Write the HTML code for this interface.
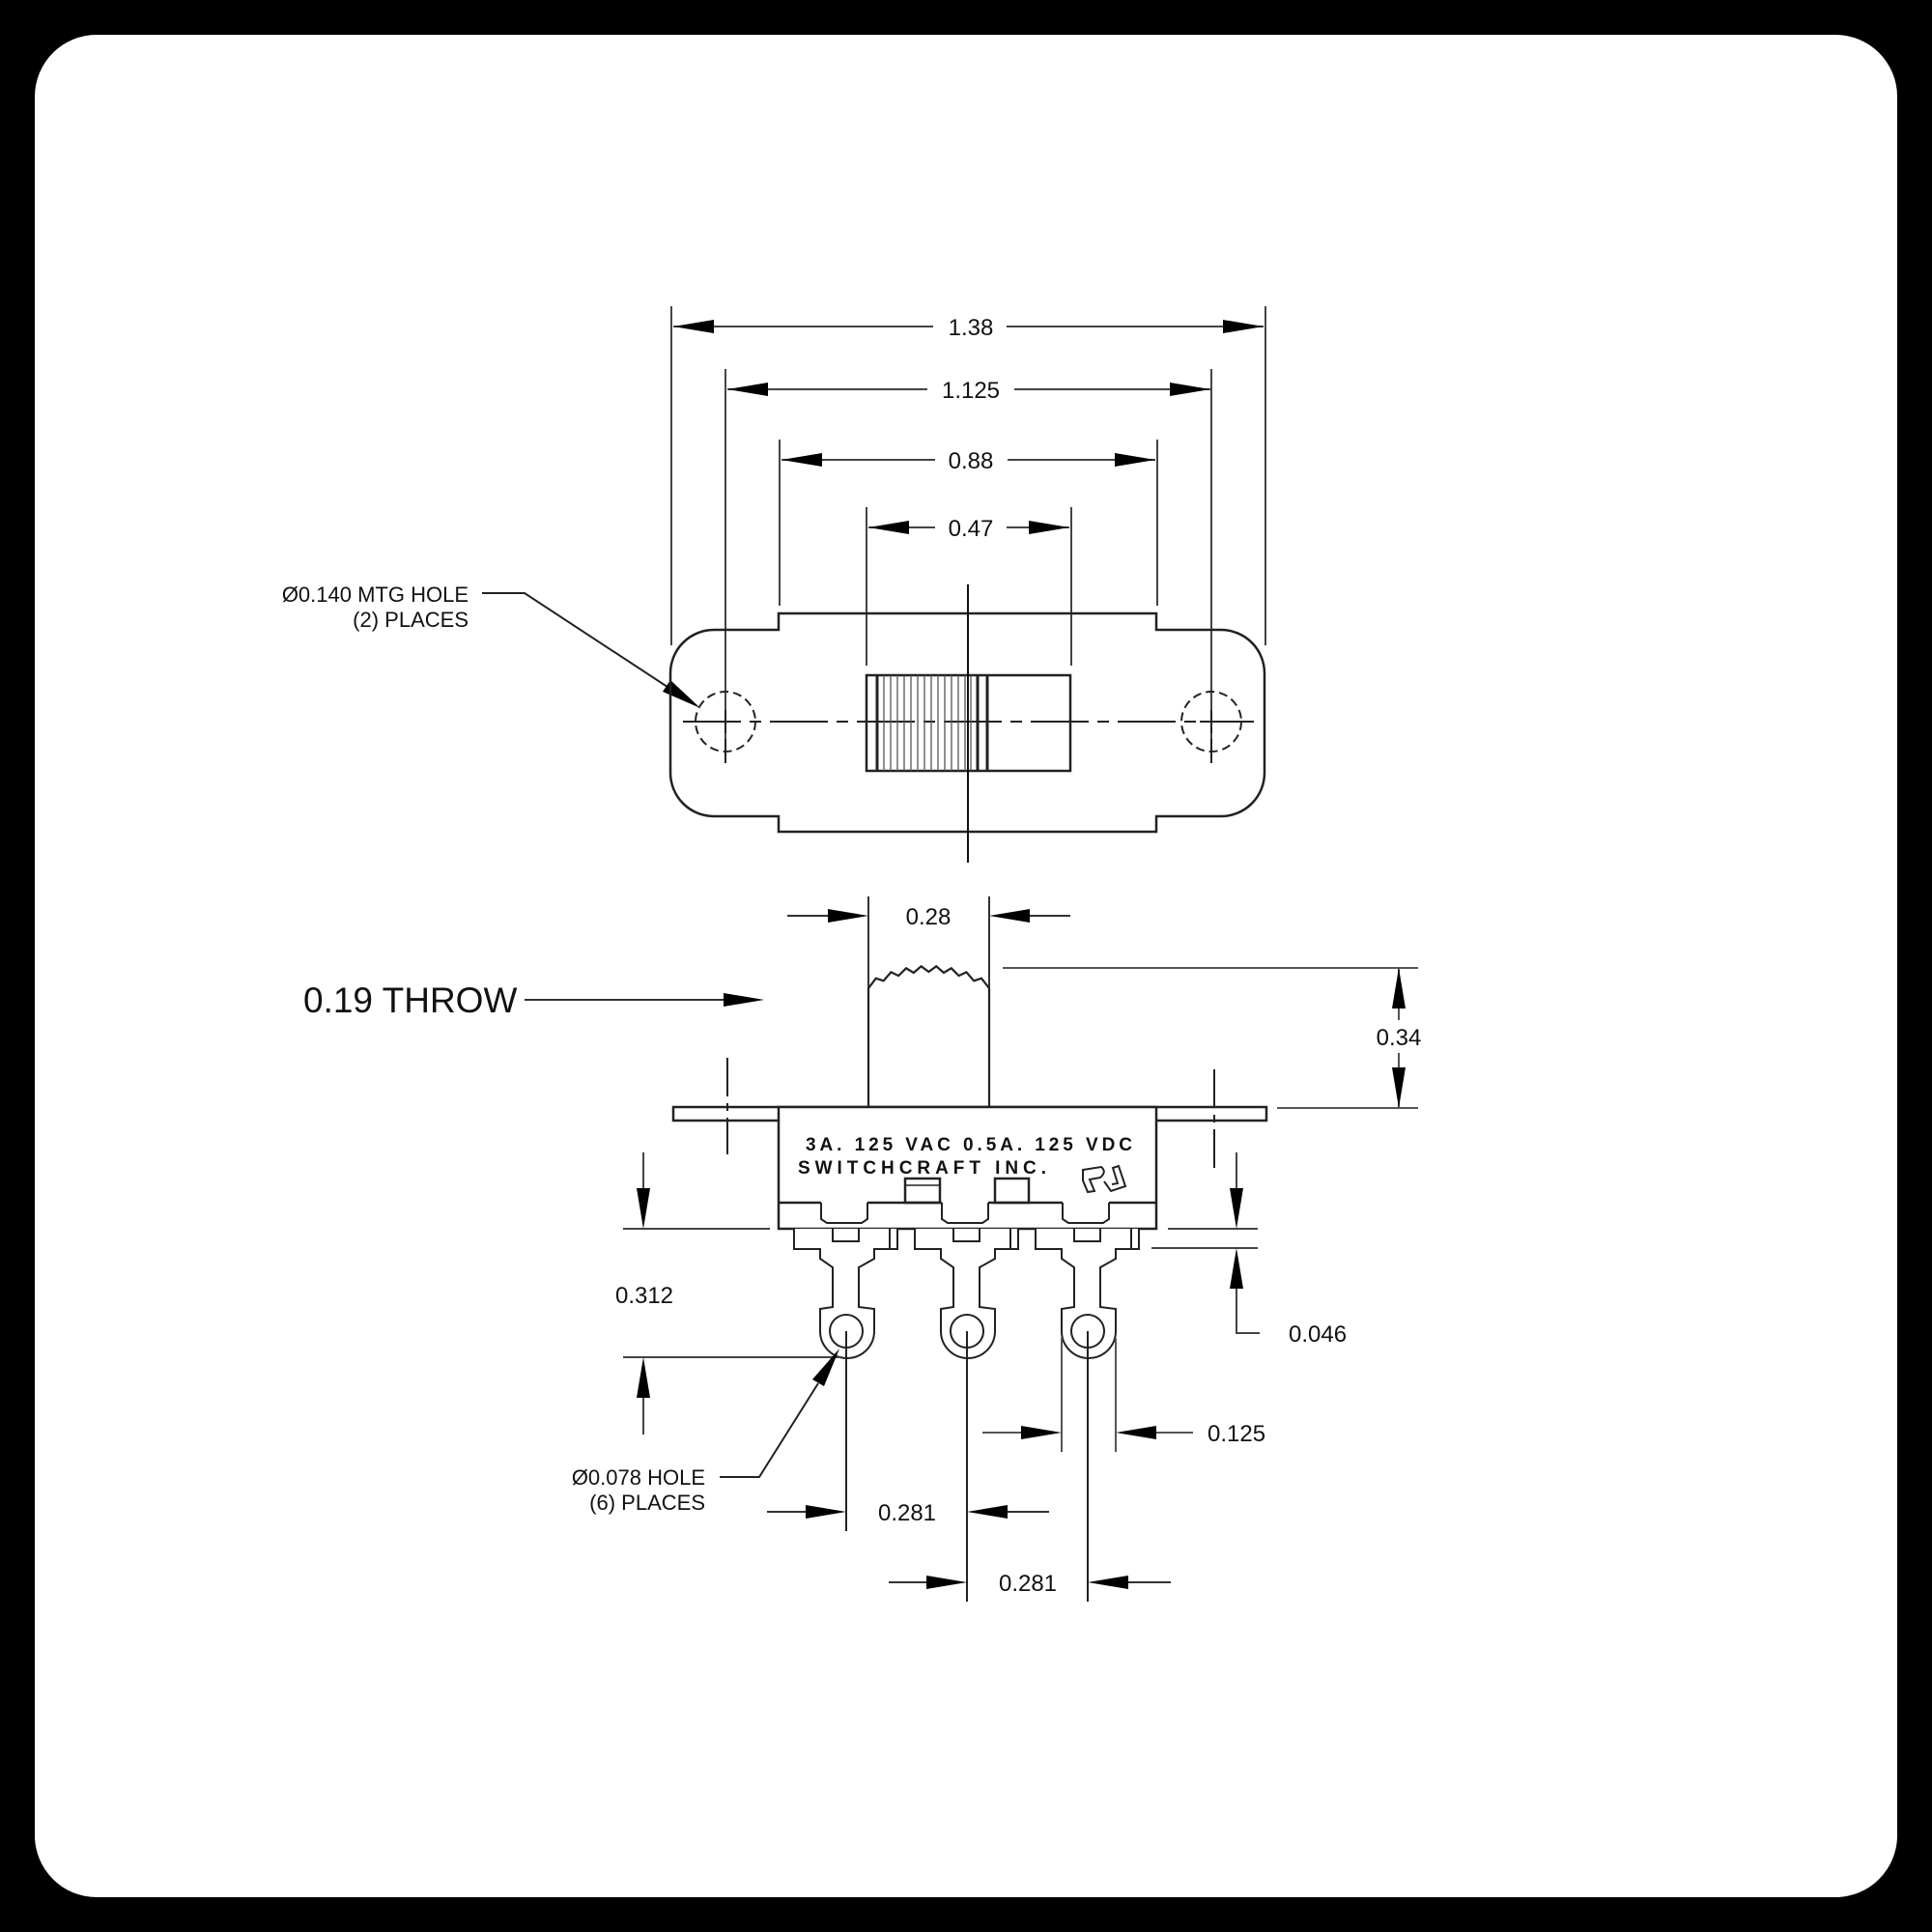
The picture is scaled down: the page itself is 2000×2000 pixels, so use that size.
<!DOCTYPE html>
<html><head><meta charset="utf-8"><style>
html,body{margin:0;padding:0;background:#000;}
svg{display:block;}
text{font-family:"Liberation Sans",Arial,sans-serif;fill:#111;}
</style></head><body>
<svg width="2000" height="2000" viewBox="0 0 2000 2000" xmlns="http://www.w3.org/2000/svg">
<rect x="0" y="0" width="2000" height="2000" fill="#000"/>
<rect x="36" y="36" width="1928" height="1928" rx="64" fill="#fff"/>

<!-- ===== TOP VIEW DIMENSIONS ===== -->
<g stroke="#444" stroke-width="2" fill="none">
  <!-- extension lines -->
  <line x1="695" y1="317" x2="695" y2="668"/>
  <line x1="1310" y1="317" x2="1310" y2="668"/>
  <line x1="751" y1="382" x2="751" y2="790"/>
  <line x1="1254" y1="382" x2="1254" y2="790"/>
  <line x1="807" y1="455" x2="807" y2="627"/>
  <line x1="1198" y1="455" x2="1198" y2="627"/>
  <line x1="897" y1="525" x2="897" y2="689"/>
  <line x1="1109" y1="525" x2="1109" y2="689"/>
  <!-- dim lines -->
  <line x1="697" y1="338" x2="966" y2="338"/><line x1="1042" y1="338" x2="1308" y2="338"/>
  <line x1="753" y1="403" x2="960" y2="403"/><line x1="1050" y1="403" x2="1253" y2="403"/>
  <line x1="809" y1="476" x2="968" y2="476"/><line x1="1043" y1="476" x2="1196" y2="476"/>
  <line x1="899" y1="546" x2="968" y2="546"/><line x1="1042" y1="546" x2="1107" y2="546"/>
</g>
<g fill="#000">
  <polygon points="697,338 739,331 739,345"/><polygon points="1308,338 1266,331 1266,345"/>
  <polygon points="753,403 795,396 795,410"/><polygon points="1253,403 1211,396 1211,410"/>
  <polygon points="809,476 851,469 851,483"/><polygon points="1196,476 1154,469 1154,483"/>
  <polygon points="899,546 941,539 941,553"/><polygon points="1107,546 1065,539 1065,553"/>
</g>
<g font-size="24" text-anchor="middle">
  <text x="1005" y="347">1.38</text>
  <text x="1005" y="412">1.125</text>
  <text x="1005" y="485">0.88</text>
  <text x="1005" y="555">0.47</text>
</g>

<!-- MTG hole label -->
<g font-size="22" text-anchor="end">
  <text x="485" y="623">Ø0.140 MTG HOLE</text>
  <text x="485" y="649">(2) PLACES</text>
</g>
<polyline points="499,614 543,614 700,717" fill="none" stroke="#222" stroke-width="2"/>
<polygon points="725,733 686,716 694,704" fill="#000"/>

<!-- ===== TOP VIEW BODY ===== -->
<path d="M806,652 L806,635 L1197,635 L1197,652 L1264,652 A45,45 0 0 1 1309,697 L1309,800 A45,45 0 0 1 1264,845 L1197,845 L1197,861 L806,861 L806,845 L739,845 A45,45 0 0 1 694,800 L694,697 A45,45 0 0 1 739,652 Z" fill="none" stroke="#222" stroke-width="2.5"/>
<!-- holes -->
<g fill="none" stroke="#222" stroke-width="2">
  <circle cx="751" cy="747" r="31" stroke-dasharray="9 5"/>
  <circle cx="1254" cy="747" r="31" stroke-dasharray="9 5"/>
  <line x1="739" y1="747" x2="763" y2="747"/><line x1="751" y1="735" x2="751" y2="759"/>
  <line x1="1242" y1="747" x2="1266" y2="747"/><line x1="1254" y1="735" x2="1254" y2="759"/>
  <line x1="751" y1="765" x2="751" y2="790" />
  <line x1="1254" y1="765" x2="1254" y2="790" />
  <line x1="707" y1="747" x2="1298" y2="747" stroke-dasharray="60 9 12 9"/>
  <!-- slider -->
  <rect x="897" y="699" width="211" height="99" stroke-width="2.5"/>
  <line x1="1022" y1="699" x2="1022" y2="798" stroke-width="3"/>
  <line x1="908" y1="699" x2="908" y2="798" stroke-width="3"/>
  <line x1="1012" y1="699" x2="1012" y2="798" stroke-width="3"/>
  <g stroke-width="1.3" stroke="#555">
    <line x1="915" y1="699" x2="915" y2="798"/><line x1="922" y1="699" x2="922" y2="798"/>
    <line x1="929" y1="699" x2="929" y2="798"/><line x1="936" y1="699" x2="936" y2="798"/>
    <line x1="943" y1="699" x2="943" y2="798"/><line x1="950" y1="699" x2="950" y2="798"/>
    <line x1="957" y1="699" x2="957" y2="798"/><line x1="964" y1="699" x2="964" y2="798"/>
    <line x1="971" y1="699" x2="971" y2="798"/><line x1="978" y1="699" x2="978" y2="798"/>
    <line x1="985" y1="699" x2="985" y2="798"/><line x1="992" y1="699" x2="992" y2="798"/>
    <line x1="999" y1="699" x2="999" y2="798"/><line x1="1005" y1="699" x2="1005" y2="798"/>
  </g>
  <line x1="1002" y1="605" x2="1002" y2="893" stroke="#111"/>
</g>

<!-- ===== SIDE VIEW ===== -->
<!-- THROW -->
<text x="314" y="1048" font-size="37">0.19 THROW</text>
<line x1="543" y1="1035" x2="760" y2="1035" stroke="#333" stroke-width="2"/>
<polygon points="791,1035 749,1028 749,1042" fill="#000"/>

<!-- 0.28 -->
<g stroke="#333" stroke-width="2" fill="none">
  <line x1="899" y1="928" x2="899" y2="1023"/>
  <line x1="1024" y1="928" x2="1024" y2="1023"/>
  <line x1="815" y1="948" x2="860" y2="948"/>
  <line x1="1064" y1="948" x2="1108" y2="948"/>
</g>
<polygon points="899,948 857,941 857,955" fill="#000"/>
<polygon points="1024,948 1066,941 1066,955" fill="#000"/>
<text x="961" y="957" font-size="24" text-anchor="middle">0.28</text>

<!-- actuator -->
<g fill="none" stroke="#222" stroke-width="2.2">
  <line x1="899" y1="1023" x2="899" y2="1146"/>
  <line x1="1024" y1="1023" x2="1024" y2="1146"/>
  <polyline points="899,1023 906.8,1012.8 914.6,1015.3 922.4,1006.4 930.2,1010.1 938,1002.3 945.8,1007 953.6,1000.3 961.4,1006 969.2,1000.3 977,1007 984.8,1002.3 992.6,1010.1 1000.4,1006.4 1008.2,1015.3 1016,1012.8 1024,1023"/>
</g>
<!-- 0.34 -->
<g stroke="#555" stroke-width="2" fill="none">
  <line x1="1038" y1="1002" x2="1468" y2="1002"/>
  <line x1="1322" y1="1147" x2="1468" y2="1147"/>
  <line x1="1448" y1="1002" x2="1448" y2="1056"/>
  <line x1="1448" y1="1090" x2="1448" y2="1147"/>
</g>
<polygon points="1448,1002 1441,1044 1455,1044" fill="#000"/>
<polygon points="1448,1147 1441,1105 1455,1105" fill="#000"/>
<text x="1448" y="1082" font-size="24" text-anchor="middle">0.34</text>

<!-- plate & body -->
<g fill="none" stroke="#222" stroke-width="2.5">
  <rect x="697" y="1146" width="614" height="14"/>
  <rect x="806" y="1146" width="391" height="126" fill="#fff"/>
  <line x1="806" y1="1245" x2="850" y2="1245"/>
  <line x1="898" y1="1245" x2="975" y2="1245"/>
  <line x1="1023" y1="1245" x2="1100" y2="1245"/>
  <line x1="1148" y1="1245" x2="1197" y2="1245"/>
  <rect x="937" y="1220" width="36" height="25"/>
  <line x1="937" y1="1227" x2="973" y2="1227" stroke-width="1.6"/>
  <rect x="1030" y="1220" width="35" height="25"/>
</g>
<!-- dash-dot center lines side -->
<g stroke="#222" stroke-width="2" fill="none">
  <line x1="753" y1="1095" x2="753" y2="1195" stroke-dasharray="40 7 8 7"/>
  <line x1="1257" y1="1107" x2="1257" y2="1210" stroke-dasharray="40 7 8 7"/>
</g>
<g font-size="19" font-weight="bold">
  <text x="834" y="1191" textLength="338" lengthAdjust="spacing">3A. 125 VAC 0.5A. 125 VDC</text>
  <text x="826" y="1215" textLength="257" lengthAdjust="spacing">SWITCHCRAFT INC.</text>
</g>
<!-- UL mark -->
<g fill="none" stroke="#222" stroke-width="2">
  <path d="M1121,1211 L1140,1208 Q1146,1213 1139,1219 L1128,1221 L1133,1233 L1126,1234 L1121,1222 Z"/>
  <path d="M1143,1223 L1150,1233 L1165,1228 L1158,1207 L1152,1209 L1157,1225 L1151,1226"/>
</g>

<!-- terminals -->
<g fill="#fff" stroke="#222" stroke-width="2">
  <g transform="translate(876,0)">
    <path d="M-26,1245 L-26,1262 L-20,1266 L16,1266 L22,1262 L22,1245" fill="none"/>
    <path d="M-54,1272 L-54,1293 L-27,1293 L-27,1303 L-14,1312 L-14,1353 L-27,1355 L-27,1378 A28,28 0 0 0 29,1378 L29,1355 L13,1353 L13,1312 L29,1303 L29,1293 L53,1293 L53,1272"/>
    <path d="M-14,1272 L-14,1285 L13,1285 L13,1272" fill="none"/>
    <line x1="45" y1="1272" x2="45" y2="1293"/>
    <circle cx="0" cy="1378" r="17"/>
  </g>
  <g transform="translate(1001,0)">
    <path d="M-26,1245 L-26,1262 L-20,1266 L16,1266 L22,1262 L22,1245" fill="none"/>
    <path d="M-54,1272 L-54,1293 L-27,1293 L-27,1303 L-14,1312 L-14,1353 L-27,1355 L-27,1378 A28,28 0 0 0 29,1378 L29,1355 L13,1353 L13,1312 L29,1303 L29,1293 L53,1293 L53,1272"/>
    <path d="M-14,1272 L-14,1285 L13,1285 L13,1272" fill="none"/>
    <line x1="45" y1="1272" x2="45" y2="1293"/>
    <circle cx="0" cy="1378" r="17"/>
  </g>
  <g transform="translate(1126,0)">
    <path d="M-26,1245 L-26,1262 L-20,1266 L16,1266 L22,1262 L22,1245" fill="none"/>
    <path d="M-54,1272 L-54,1293 L-27,1293 L-27,1303 L-14,1312 L-14,1353 L-27,1355 L-27,1378 A28,28 0 0 0 29,1378 L29,1355 L13,1353 L13,1312 L29,1303 L29,1293 L53,1293 L53,1272"/>
    <path d="M-14,1272 L-14,1285 L13,1285 L13,1272" fill="none"/>
    <line x1="45" y1="1272" x2="45" y2="1293"/>
    <circle cx="0" cy="1378" r="17"/>
  </g>
</g>

<!-- 0.312 -->
<g stroke="#444" stroke-width="2" fill="none">
  <line x1="645" y1="1272" x2="797" y2="1272"/>
  <line x1="645" y1="1405" x2="872" y2="1405"/>
  <line x1="666" y1="1193" x2="666" y2="1240"/>
  <line x1="666" y1="1440" x2="666" y2="1485"/>
</g>
<polygon points="666,1272 659,1230 673,1230" fill="#000"/>
<polygon points="666,1405 659,1447 673,1447" fill="#000"/>
<text x="667" y="1349" font-size="24" text-anchor="middle">0.312</text>

<!-- 0.046 -->
<g stroke="#444" stroke-width="2" fill="none">
  <line x1="1209" y1="1272" x2="1302" y2="1272"/>
  <line x1="1192" y1="1292" x2="1302" y2="1292"/>
  <line x1="1280" y1="1193" x2="1280" y2="1240"/>
  <polyline points="1280,1325 1280,1380 1304,1380"/>
</g>
<polygon points="1280,1272 1273,1230 1287,1230" fill="#000"/>
<polygon points="1280,1292 1273,1334 1287,1334" fill="#000"/>
<text x="1334" y="1389" font-size="24">0.046</text>

<!-- vertical centre / extension lines at bottom -->
<g stroke="#222" stroke-width="2" fill="none">
  <line x1="876" y1="1378" x2="876" y2="1585"/>
  <line x1="1001" y1="1378" x2="1001" y2="1658"/>
  <line x1="1126" y1="1378" x2="1126" y2="1658"/>
  <line x1="1099" y1="1385" x2="1099" y2="1503" stroke="#555"/>
  <line x1="1155" y1="1385" x2="1155" y2="1503" stroke="#555"/>
</g>
<!-- 0.125 -->
<g stroke="#555" stroke-width="2">
  <line x1="1017" y1="1483" x2="1060" y2="1483"/>
  <line x1="1195" y1="1483" x2="1235" y2="1483"/>
</g>
<polygon points="1099,1483 1057,1476 1057,1490" fill="#000"/>
<polygon points="1155,1483 1197,1476 1197,1490" fill="#000"/>
<text x="1250" y="1492" font-size="24">0.125</text>
<!-- 0.281 a -->
<g stroke="#333" stroke-width="2">
  <line x1="794" y1="1565" x2="840" y2="1565"/>
  <line x1="1040" y1="1565" x2="1086" y2="1565"/>
  <line x1="920" y1="1638" x2="965" y2="1638"/>
  <line x1="1165" y1="1638" x2="1212" y2="1638"/>
</g>
<polygon points="876,1565 834,1558 834,1572" fill="#000"/>
<polygon points="1001,1565 1043,1558 1043,1572" fill="#000"/>
<text x="939" y="1574" font-size="24" text-anchor="middle">0.281</text>
<polygon points="1001,1638 959,1631 959,1645" fill="#000"/>
<polygon points="1126,1638 1168,1631 1168,1645" fill="#000"/>
<text x="1064" y="1647" font-size="24" text-anchor="middle">0.281</text>

<!-- Ø0.078 label -->
<g font-size="22" text-anchor="end">
  <text x="730" y="1537">Ø0.078 HOLE</text>
  <text x="730" y="1563">(6) PLACES</text>
</g>
<polyline points="745,1529 786,1529 847,1432" fill="none" stroke="#222" stroke-width="2"/>
<polygon points="869,1396 853,1435 841,1428" fill="#000"/>
</svg>
</body></html>
